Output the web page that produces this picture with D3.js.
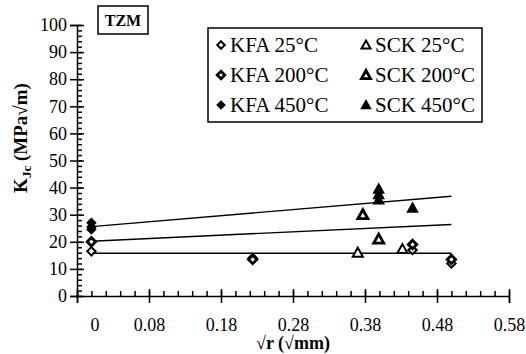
<!DOCTYPE html>
<html>
<head>
<meta charset="utf-8">
<script src="https://cdn.jsdelivr.net/npm/d3@7"></script>
<style>
  body { margin: 0; background: #fff; }
  svg text { font-family: "Liberation Serif", "DejaVu Serif", serif; }
</style>
</head>
<body>
<svg id="chart" width="526" height="354"></svg>
<script>
// data: [sqrt(r), KJc]
const kfa25 = [[0, 16.5], [0.224, 14], [0.446, 17], [0.5, 12]];
const kfa200 = [[0, 20], [0.224, 13.5], [0.446, 19], [0.5, 13.5]];
const kfa450 = [[0, 27], [0, 25.5], [0, 24.5]];
const sck25 = [[0.37, 16], [0.432, 17.3]];
const sck200 = [[0.377, 30], [0.399, 21]];
const sck450 = [[0.399, 39.5], [0.399, 37.5], [0.399, 35.5], [0.446, 32.5]];

// fitted lines: [x0, y0, x1, y1]
const fit25 = [0, 15.8, 0.5, 15.8];
const fit200 = [0, 20.2, 0.5, 26.4];
const fit450 = [0, 25.6, 0.5, 36.8];

const xMajorTicks = [-0.02, 0.08, 0.18, 0.28, 0.38, 0.48, 0.58];
const yMajorTicks = [0, 10, 20, 30, 40, 50, 60, 70, 80, 90, 100];

const serif = '"Liberation Serif", "DejaVu Serif", serif';
const svg = d3.select('#chart');

const x = d3.scaleLinear().domain([-0.02, 0.58]).range([77, 509]);
const y = d3.scaleLinear().domain([0, 100]).range([296, 25]);

const xMinor = d3.range(0, 31).map(i => -0.02 + i * 0.02);
const yMinor = d3.range(0, 51).map(i => i * 2);

// y axis
const gy = svg.append('g').attr('transform', `translate(${x(-0.02)},0)`);
gy.call(d3.axisLeft(y).tickValues(yMajorTicks).tickSize(7).tickPadding(3));
gy.attr('font-family', serif).attr('font-size', 18);
svg.append('g').attr('transform', `translate(${x(-0.02)},0)`)
  .call(d3.axisLeft(y).tickValues(yMinor).tickSize(-5).tickFormat(''))
  .call(g => g.select('.domain').remove());
svg.append('g').attr('transform', `translate(${x(-0.02)},0)`)
  .call(d3.axisLeft(y).tickValues(yMajorTicks).tickSize(-7).tickFormat(''))
  .call(g => g.select('.domain').remove());

// x axis
const gx = svg.append('g').attr('transform', `translate(0,${y(0)})`);
gx.call(d3.axisBottom(x).tickValues(xMajorTicks).tickSize(7).tickPadding(15)
  .tickFormat(d => d < 0 ? '' : d3.format('.2f')(d)));
gx.attr('font-family', serif).attr('font-size', 18);
svg.append('g').attr('transform', `translate(0,${y(0)})`)
  .call(d3.axisBottom(x).tickValues(xMinor).tickSize(-5).tickFormat(''))
  .call(g => g.select('.domain').remove());
svg.append('g').attr('transform', `translate(0,${y(0)})`)
  .call(d3.axisBottom(x).tickValues(xMajorTicks).tickSize(-7).tickFormat(''))
  .call(g => g.select('.domain').remove());
// the "0" label at sqrt(r) = 0
svg.append('g').attr('transform', `translate(3,${y(0)})`)
  .call(d3.axisBottom(x).tickValues([0]).tickSize(0).tickPadding(22).tickFormat(() => '0'))
  .call(g => g.select('.domain').remove())
  .attr('font-family', serif).attr('font-size', 18);

svg.selectAll('.domain, .tick line').attr('stroke', '#000').attr('stroke-width', 1.5);
svg.selectAll('.tick text').attr('fill', '#000');

// axis titles
svg.append('text')
  .attr('transform', 'translate(27,138) rotate(-90)')
  .attr('text-anchor', 'middle')
  .style('font-size', '19px').style('font-weight', 'bold')
  .html('K<tspan font-size="13" dy="4">Jc</tspan><tspan dy="-4"> (MPa√m)</tspan>');

svg.append('text')
  .attr('x', 293).attr('y', 349)
  .attr('text-anchor', 'middle')
  .style('font-size', '18px').style('font-weight', 'bold')
  .text('√r (√mm)');

// fit lines
[fit25, fit200, fit450].forEach(f => {
  svg.append('line')
    .attr('x1', x(f[0])).attr('y1', y(f[1]))
    .attr('x2', x(f[2])).attr('y2', y(f[3]))
    .attr('stroke', '#000').attr('stroke-width', 1.4);
});

// markers
const diamond = s => `M0,${-s}L${s},0L0,${s}L${-s},0Z`;
const triangle = s => `M0,${-s}L${s},${s * 0.8}L${-s},${s * 0.8}Z`;

const styles = {
  open: { fill: '#fff', sw: 2 },
  thick: { fill: '#fff', sw: 2.8 },
  solid: { fill: '#000', sw: 1.5 }
};

const series = [
  { name: 'KFA 25°C', data: kfa25, shape: diamond, size: 4.2, style: styles.open },
  { name: 'KFA 200°C', data: kfa200, shape: diamond, size: 4.2, style: styles.thick },
  { name: 'KFA 450°C', data: kfa450, shape: diamond, size: 4.2, style: styles.solid },
  { name: 'SCK 25°C', data: sck25, shape: triangle, size: 5, style: styles.open },
  { name: 'SCK 200°C', data: sck200, shape: triangle, size: 5, style: styles.thick },
  { name: 'SCK 450°C', data: sck450, shape: triangle, size: 5, style: styles.solid }
];

series.forEach(s => {
  svg.append('g').selectAll('path')
    .data(s.data)
    .join('path')
    .attr('transform', d => `translate(${x(d[0])},${y(d[1])})`)
    .attr('d', s.shape(s.size))
    .attr('fill', s.style.fill)
    .attr('stroke', '#000')
    .attr('stroke-width', s.style.sw);
});

// TZM label box
svg.append('rect')
  .attr('x', 98).attr('y', 6).attr('width', 50).attr('height', 28)
  .attr('fill', '#fff').attr('stroke', '#000').attr('stroke-width', 1.5);
svg.append('text')
  .attr('x', 123).attr('y', 26).attr('text-anchor', 'middle')
  .style('font-size', '16px').style('font-weight', 'bold')
  .text('TZM');

// legend
const legend = svg.append('g');
legend.append('rect')
  .attr('x', 208).attr('y', 28).attr('width', 274).attr('height', 94)
  .attr('fill', '#fff').attr('stroke', '#000').attr('stroke-width', 1.5);

series.forEach((s, i) => {
  const col = Math.floor(i / 3);
  const row = i % 3;
  const lx = col === 0 ? 221 : 366;
  const ly = 45 + row * 30;
  legend.append('path')
    .attr('transform', `translate(${lx},${ly})`)
    .attr('d', s.shape(s.size * 0.9))
    .attr('fill', s.style.fill)
    .attr('stroke', '#000')
    .attr('stroke-width', s.style.sw);
  legend.append('text')
    .attr('x', lx + 9).attr('y', ly + 7)
    .style('font-size', '21px')
    .text(s.name);
});
</script>
</body>
</html>
